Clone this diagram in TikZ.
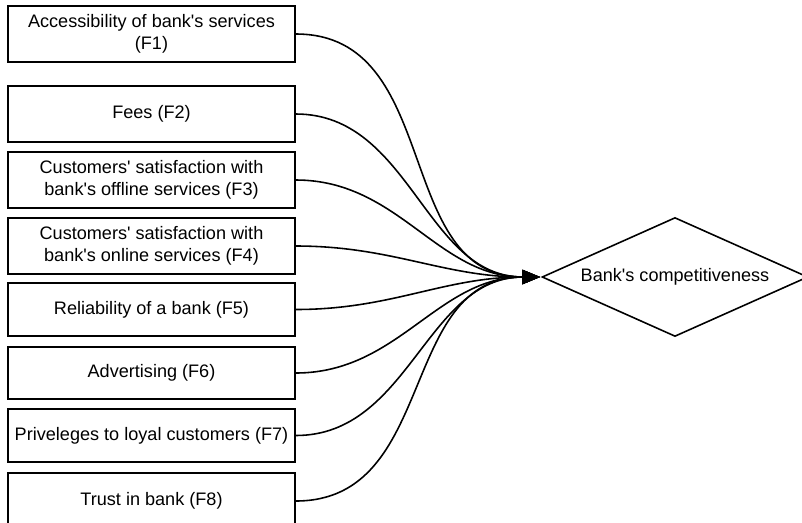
\documentclass[tikz,border=0pt]{standalone}
\usepackage{fontspec}
\setmainfont{Liberation Sans}[Ligatures=TeXOff]
\usetikzlibrary{arrows.meta,shapes.geometric}
\tikzset{
  factor/.style={draw=black, line width=0.95pt, fill=white, align=center,
                 minimum width=5.74cm, minimum height=1.12cm, inner sep=2pt},
  goal/.style={diamond, draw=black, line width=0.9pt, align=center, aspect=2.24,
               minimum width=5.32cm, minimum height=2.38cm, inner sep=0pt},
  link/.style={-{Triangle[length=10pt,width=8pt]}, line width=0.9pt, draw=black},
}

\begin{document}
\begin{tikzpicture}[x=0.02cm,y=-0.02cm,font=\fontsize{10.3}{12.5}\selectfont]
    \useasboundingbox (0,0) rectangle (802,522);
    \node[factor] (f1) at (151.5,34) {Accessibility of bank's services\\(F1)};
    \node[factor] (f2) at (151.5,114) {Fees (F2)};
    \node[factor] (f3) at (151.5,180) {Customers' satisfaction with\\bank's offline services (F3)};
    \node[factor] (f4) at (151.5,246) {Customers' satisfaction with\\bank's online services (F4)};
    \node[factor,minimum height=1.06cm] (f5) at (151.5,309.5) {Reliability of a bank (F5)};
    \node[factor,minimum height=1.04cm] (f6) at (151.5,373) {Advertising (F6)};
    \node[factor,minimum height=1.06cm] (f7) at (151.5,435.5) {Priveleges to loyal customers (F7)};
    \node[factor] (f8) at (151.5,501) {Trust in bank (F8)};
    \node[goal] (bc) at (675,277) {Bank's competitiveness};
    \coordinate (hub) at (540,277);
    \draw[link] (f1.east) to[out=0,in=180,looseness=1.1] (hub);
    \draw[link] (f2.east) to[out=0,in=180] (hub);
    \draw[link] (f3.east) to[out=0,in=180] (hub);
    \draw[link] (f4.east) to[out=0,in=180] (hub);
    \draw[link] (f5.east) to[out=0,in=180] (hub);
    \draw[link] (f6.east) to[out=0,in=180] (hub);
    \draw[link] (f7.east) to[out=0,in=180] (hub);
    \draw[link] (f8.east) to[out=0,in=180,looseness=1.1] (hub);
  \end{tikzpicture}
\end{document}
